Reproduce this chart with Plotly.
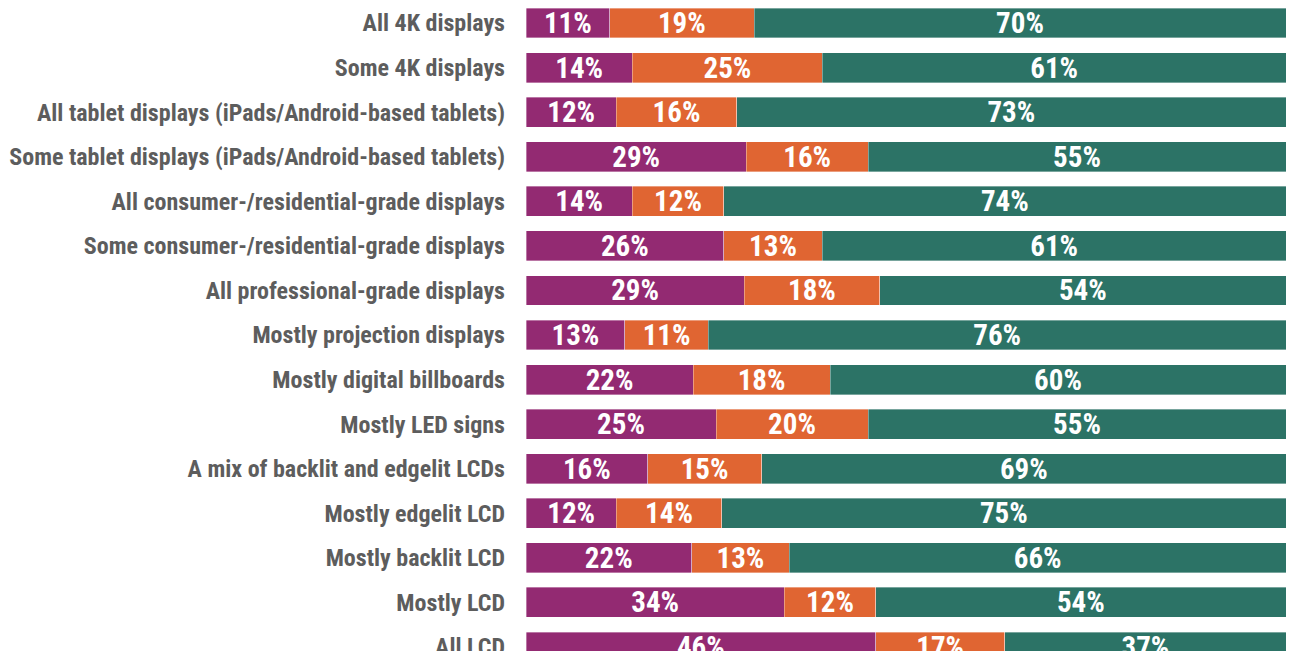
import plotly.graph_objects as go

categories = [
    "All 4K displays",
    "Some 4K displays",
    "All tablet displays (iPads/Android-based tablets)",
    "Some tablet displays (iPads/Android-based tablets)",
    "All consumer-/residential-grade displays",
    "Some consumer-/residential-grade displays",
    "All professional-grade displays",
    "Mostly projection displays",
    "Mostly digital billboards",
    "Mostly LED signs",
    "A mix of backlit and edgelit LCDs",
    "Mostly edgelit LCD",
    "Mostly backlit LCD",
    "Mostly LCD",
    "All LCD",
]
purple_vals = [11, 14, 12, 29, 14, 26, 29, 13, 22, 25, 16, 12, 22, 34, 46]
orange_vals = [19, 25, 16, 16, 12, 13, 18, 11, 18, 20, 15, 14, 13, 12, 17]
teal_vals = [70, 61, 73, 55, 74, 61, 54, 76, 60, 55, 69, 75, 66, 54, 37]

colors = ["#932a72", "#e06532", "#2c7366"]
series = [purple_vals, orange_vals, teal_vals]
font_family = "Roboto Condensed, Liberation Sans Narrow, Roboto, sans-serif"

fig = go.Figure()
for vals, col in zip(series, colors):
    fig.add_trace(go.Bar(
        y=categories, x=vals, orientation="h",
        marker=dict(color=col, line=dict(width=0.6, color="rgba(255,255,255,0.6)")),
        text=[f"{v}%" for v in vals],
        textposition="inside", insidetextanchor="middle", constraintext="none",
        textfont=dict(family=font_family, size=29, color="white", weight=700),
        width=0.67,
        showlegend=False,
    ))

# page body adds an 8px margin, so the figure is sized to fit inside the window
fig.update_layout(
    barmode="stack", barnorm="percent",
    width=1278, height=643,
    margin=dict(l=518, r=0, t=0, b=0),
    plot_bgcolor="white", paper_bgcolor="white",
    uniformtext=dict(mode=False),
)
fig.update_xaxes(range=[0, 100], visible=False)
fig.update_yaxes(
    categoryorder="array", categoryarray=categories,
    range=[14.09, -0.337], autorange=False,
    tickfont=dict(family=font_family, size=24, color="#5d5d5d", weight=700),
    ticklabelstandoff=20, showgrid=False, showline=False, automargin=False,
)
fig.write_html("out.html")
